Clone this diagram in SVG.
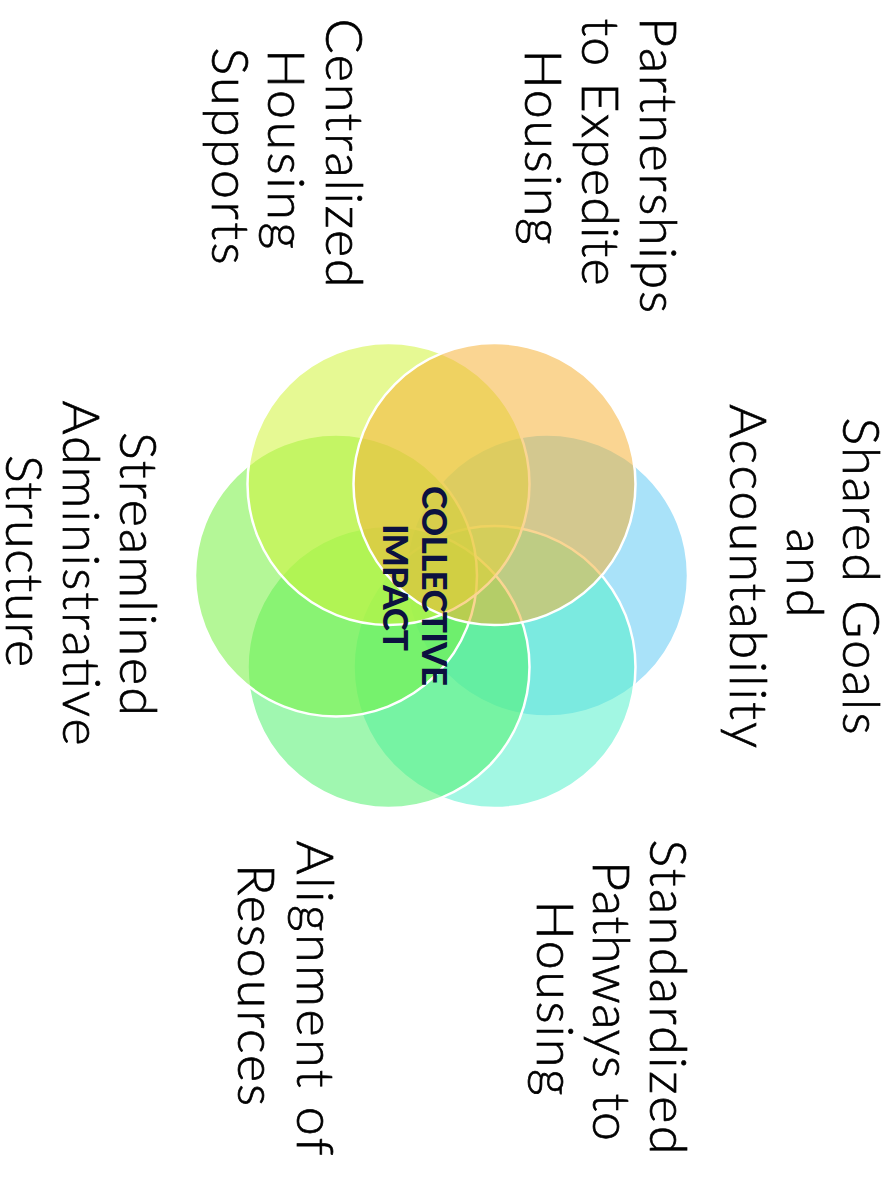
<svg xmlns="http://www.w3.org/2000/svg" width="893" height="1178" viewBox="0 0 893 1178">
<style>
.c{stroke:#ffffff;stroke-width:2.5;fill-opacity:0.55}
.t{font-family:Lato,"Open Sans","Liberation Sans",sans-serif;font-weight:300;font-size:52px;fill:#000;stroke:#000;stroke-width:0.7;text-anchor:middle}
.h{font-family:Lato,"Liberation Sans",sans-serif;font-weight:900;font-size:35px;fill:#0c1140;text-anchor:middle}
</style>
<rect width="893" height="1178" fill="#ffffff"/>
<g id="circles">
<circle id="c-blue" class="c" cx="547" cy="575.5" r="141" fill="#63CAF4"/>
<circle id="c-teal" class="c" cx="494.5" cy="667" r="141" fill="#56F0CC"/>
<circle id="c-green" class="c" cx="388.5" cy="667" r="141" fill="#52F06F"/>
<circle id="c-lime" class="c" cx="336" cy="575.5" r="141" fill="#77F042"/>
<circle id="c-yellow" class="c" cx="388.5" cy="484" r="141" fill="#D2F43B"/>
<circle id="c-orange" class="c" cx="494.5" cy="484" r="141" fill="#F6B339"/>
</g>
<g id="center-label">
<text class="h" transform="translate(422,586) rotate(90)" textLength="200" lengthAdjust="spacing">COLLECTIVE</text>
<text class="h" transform="translate(383,587.5) rotate(90)" textLength="127" lengthAdjust="spacing">IMPACT</text>
</g>
<g id="partnerships">
<text class="t" transform="translate(640,165) rotate(90)" textLength="296" lengthAdjust="spacing">Partnerships</text>
<text class="t" transform="translate(582,152) rotate(90)" textLength="267" lengthAdjust="spacing">to Expedite</text>
<text class="t" transform="translate(525,147) rotate(90)" textLength="195" lengthAdjust="spacing">Housing</text>
</g>
<g id="centralized">
<text class="t" transform="translate(326,153) rotate(90)" textLength="269" lengthAdjust="spacing">Centralized</text>
<text class="t" transform="translate(268,149) rotate(90)" textLength="200" lengthAdjust="spacing">Housing</text>
<text class="t" transform="translate(212,156) rotate(90)" textLength="217" lengthAdjust="spacing">Supports</text>
</g>
<g id="shared">
<text class="t" transform="translate(843,576) rotate(90)" textLength="317" lengthAdjust="spacing">Shared Goals</text>
<text class="t" transform="translate(787,573) rotate(90)" textLength="89" lengthAdjust="spacing">and</text>
<text class="t" transform="translate(730,576) rotate(90)" textLength="344" lengthAdjust="spacing">Accountability</text>
</g>
<g id="streamlined">
<text class="t" transform="translate(120,574) rotate(90)" textLength="284" lengthAdjust="spacing">Streamlined</text>
<text class="t" transform="translate(63,573) rotate(90)" textLength="345" lengthAdjust="spacing">Administrative</text>
<text class="t" transform="translate(6,561) rotate(90)" textLength="212" lengthAdjust="spacing">Structure</text>
</g>
<g id="standardized">
<text class="t" transform="translate(650,997) rotate(90)" textLength="315" lengthAdjust="spacing">Standardized</text>
<text class="t" transform="translate(593,1001) rotate(90)" textLength="280" lengthAdjust="spacing">Pathways to</text>
<text class="t" transform="translate(537,998) rotate(90)" textLength="195" lengthAdjust="spacing">Housing</text>
</g>
<g id="alignment">
<text class="t" transform="translate(297,998) rotate(90)" textLength="315" lengthAdjust="spacing">Alignment of</text>
<text class="t" transform="translate(238,985) rotate(90)" textLength="242" lengthAdjust="spacing">Resources</text>
</g>
<g id="connectors"/>
</svg>
